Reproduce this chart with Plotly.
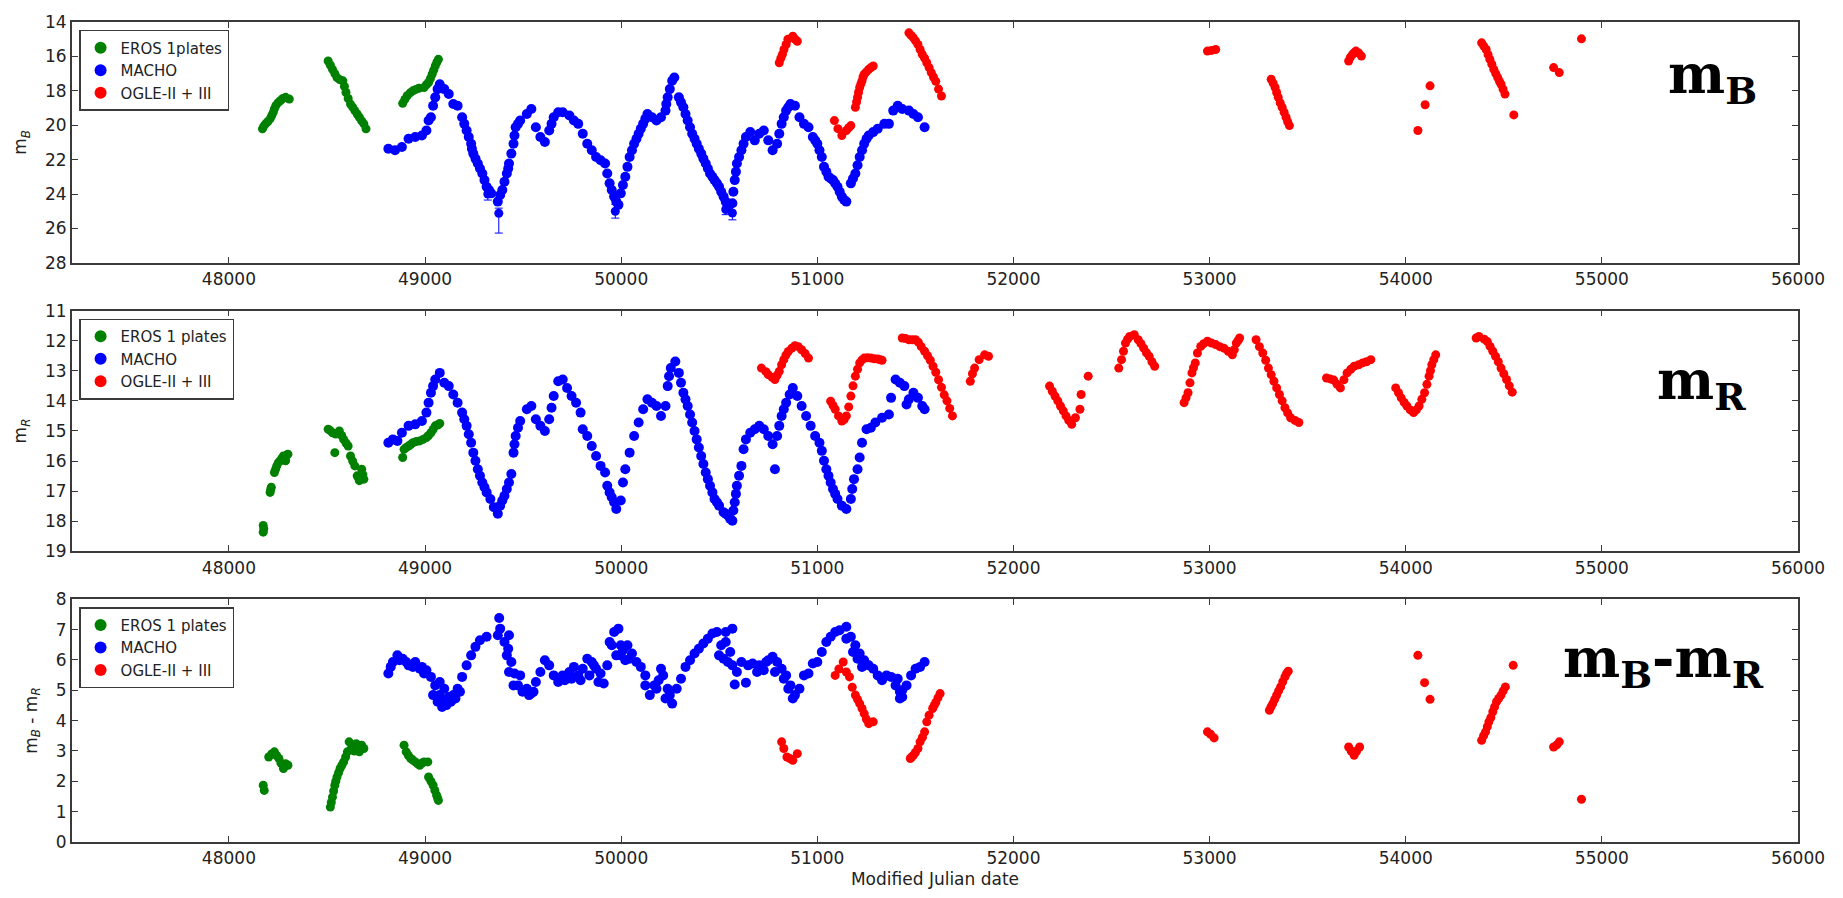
import plotly.graph_objects as go

# ---------------- data (MJD, magnitude) ----------------
eros_b = [(48171,20.21),(48178,20.05),(48187,19.92),(48198,19.8),(48210,19.63),(48218,19.45),(48226,19.25),(48232,19.05),
          (48239,18.87),(48250,18.7),(48262,18.58),(48275,18.45),(48289,18.38),(48308,18.48),
          (48506,16.27),(48517,16.5),(48528,16.75),(48540,17.0),(48551,17.23),(48565,17.35),(48581,17.42),(48589,17.75),
          (48597,18.10),(48608,18.45),(48620,18.77),(48631,18.95),(48642,19.15),(48654,19.35),(48665,19.54),(48677,19.75),
          (48688,19.92),(48699,20.21),
          (48886,18.73),(48897,18.5),(48909,18.29),(48924,18.12),(48938,18.0),(48953,17.92),(48968,17.85),(48995,17.81),
          (49007,17.65),(49018,17.52),(49027,17.3),(49036,17.04),(49044,16.8),(49052,16.56),(49060,16.35),(49068,16.17)]

macho_b = [(48813,21.37),(48847,21.46),(48882,21.27),(48916,20.79),(48950,20.69),(48984,20.60),(49007,20.31),(49030,19.54),
           (49052,18.38),(49075,17.62),(49098,17.90),(49121,18.19),(49144,18.77),(49166,18.87),(49189,19.54),(49212,20.31),
           (49235,21.08),(49246,21.65),(49269,22.23),(49292,22.81),(49314,23.58),(49337,23.96),(49371,24.44),(49394,23.77),
           (49417,22.81),(49428,22.23),(49451,21.08),(49462,20.12),(49485,19.73),(49519,19.35),(49542,19.06),(49565,20.12),
           (49588,20.69),(49611,20.98),(49633,20.31),(49656,19.54),(49679,19.25),(49702,19.25),(49736,19.44),(49759,19.73),
           (49781,19.92),(49804,20.50),(49827,21.08),(49850,21.46),(49872,21.85),(49895,22.04),(49918,22.23),(49929,22.81),
           (49941,23.38),(49964,24.15),(49986,24.63),(49998,23.96),(50021,23.00),(50043,21.85),(50066,21.08),(50089,20.50),
           (50112,19.92),(50134,19.35),(50157,19.54),(50180,19.73),(50203,19.54),(50226,19.15),(50237,18.38),(50260,17.42),
           (50271,17.23),(50294,18.38),(50317,18.96),(50339,19.73),(50362,20.50),(50385,21.08),(50408,21.65),(50431,22.23),
           (50453,22.81),(50476,23.19),(50499,23.58),(50522,24.15),(50544,24.73),(50567,24.54),(50579,23.19),(50590,22.23),
           (50613,21.46),(50636,20.69),(50658,20.40),(50681,20.88),(50704,20.50),(50727,20.31),(50750,20.88),(50772,21.46),
           (50795,21.08),(50818,19.92),(50841,19.15),(50863,18.77),(50886,18.87),(50909,19.54),(50932,19.92),(50955,20.12),
           (50977,20.69),(51000,21.08),(51023,21.85),(51034,22.42),(51057,23.00),(51080,23.19),(51103,23.58),(51125,24.15),
           (51148,24.44),(51171,23.38),(51194,22.81),(51216,21.85),(51239,21.08),(51262,20.60),(51285,20.40),(51308,20.21),
           (51342,19.92),(51365,19.92),(51387,19.15),(51410,18.87),(51433,19.06),(51467,19.15),(51490,19.35),(51513,19.54),
           (51547,20.12),
           (49018,19.73),(49041,18.87),(49064,17.90),(49200,19.92),(49223,20.69),(49239,21.37),(49257,21.94),(49280,22.52),
           (49303,23.19),(49326,23.77),(49383,24.06),(49405,23.29),(49424,22.52),(49440,21.65),(49456,20.6),(49474,19.92),
           (49645,19.92),(49952,23.77),(49975,24.44),(50009,23.48),(50032,22.42),(50055,21.46),(50078,20.79),(50100,20.21),
           (50123,19.63),(50248,17.90),(50230,18.77),(50305,18.67),(50328,19.35),(50351,20.12),(50374,20.79),(50396,21.37),
           (50419,21.94),(50442,22.52),(50465,23.0),(50488,23.38),(50510,23.87),(50533,24.44),(50572,23.87),(50585,22.71),
           (50601,21.85),(50624,21.08),(50806,20.5),(50829,19.54),(50852,18.96),(50989,20.88),(51011,21.46),(51046,22.71),
           (51068,23.10),(51091,23.38),(51114,23.87),(51137,24.35),(51182,23.1),(51205,22.33),(51228,21.46),(51251,20.79)]

# MACHO points with visible error bars: (MJD, mag, err_faint, err_bright)
macho_b_err = [(49320,24.0,0.35,0.35),(49376,25.12,1.15,0.30),(49970,25.0,0.40,0.40),
               (50533,24.9,0.30,0.30),(50567,25.1,0.40,0.40)]

ogle_b = [(50806,16.37),(50814,16.1),(50822,15.88),(50830,15.6),(50841,15.31),(50850,15.0),(50875,14.83),(50887,15.0),(50898,15.12),
          (51087,19.73),(51105,20.2),(51125,20.60),(51148,20.31),(51160,20.15),(51171,20.02),
          (51194,18.96),(51200,18.65),(51205,18.38),(51210,18.1),(51216,17.81),(51222,17.6),(51228,17.42),(51233,17.2),
          (51239,17.04),(51250,16.9),(51262,16.75),(51273,16.65),(51285,16.56),
          (51467,14.63),(51478,14.78),(51490,14.92),(51501,15.1),(51513,15.31),(51524,15.6),(51535,15.88),(51547,16.1),
          (51558,16.37),(51570,16.65),(51581,16.94),(51592,17.2),(51604,17.45),(51618,17.9),(51633,18.3),
          (52989,15.69),(53010,15.65),(53031,15.6),
          (53314,17.33),(53324,17.55),(53334,17.81),(53342,18.1),(53350,18.38),(53360,18.7),(53370,18.96),(53380,19.25),
          (53390,19.54),(53398,19.8),(53407,20.02),
          (53709,16.27),(53718,16.05),(53729,15.88),(53738,15.78),(53746,15.69),(53760,15.8),(53774,15.98),
          (54062,20.31),(54099,18.81),(54124,17.71),
          (54387,15.21),(54398,15.4),(54410,15.6),(54420,15.9),(54429,16.17),(54439,16.45),(54449,16.75),(54459,17.0),
          (54469,17.23),(54478,17.45),(54486,17.62),(54496,17.9),(54506,18.19),(54551,19.40),
          (54754,16.65),(54783,16.94),
          (54896,14.98)]

eros_r = [(48175,18.36),(48175,18.14),(48178,18.25),(48210,17.04),(48213,16.95),(48216,16.87),(48232,16.38),(48238,16.27),
          (48244,16.16),(48252,16.05),(48262,15.99),(48270,15.9),(48278,15.83),(48289,15.99),(48295,15.8),(48301,15.77),
          (48506,14.94),(48515,14.98),(48528,15.06),(48540,15.72),(48545,15.1),(48563,15.0),(48575,15.15),(48585,15.28),
          (48597,15.4),(48608,15.50),(48620,15.83),(48631,16.0),(48642,16.16),(48654,16.49),(48660,16.55),(48665,16.65),
          (48677,16.27),(48683,16.45),(48688,16.60),
          (48886,15.88),(48893,15.61),(48904,15.55),(48916,15.50),(48927,15.45),(48938,15.39),(48955,15.35),(48973,15.33),
          (48990,15.28),(49007,15.22),(49018,15.15),(49030,15.06),(49041,14.95),(49052,14.83),(49064,14.8),(49075,14.75)]

macho_r = [(48813,15.39),(48836,15.28),(48859,15.33),(48882,15.06),(48916,14.83),(48950,14.78),(48984,14.67),(49007,14.39),
           (49030,13.73),(49052,13.29),(49075,13.07),(49098,13.40),(49121,13.51),(49144,13.79),(49166,14.06),(49189,14.39),
           (49212,14.83),(49235,15.39),(49246,15.72),(49269,16.27),(49292,16.71),(49314,17.04),(49371,17.75),(49383,17.48),
           (49405,17.15),(49428,16.71),(49440,16.43),(49451,15.72),(49462,15.17),(49485,14.67),(49519,14.28),(49542,14.17),
           (49565,14.61),(49588,14.83),(49611,15.00),(49633,14.61),(49656,13.84),(49679,13.35),(49702,13.29),(49724,13.57),
           (49747,13.84),(49770,14.06),(49793,14.39),(49804,14.94),(49827,15.17),(49850,15.50),(49872,15.83),(49895,16.16),
           (49918,16.38),(49929,16.82),(49952,17.20),(49975,17.59),(49998,17.31),(50009,16.71),(50021,16.27),(50043,15.72),
           (50066,15.17),(50089,14.72),(50112,14.28),(50134,13.95),(50157,14.06),(50180,14.17),(50203,14.50),(50226,14.17),
           (50237,13.51),(50253,12.91),(50276,12.69),(50294,13.07),(50317,13.73),(50339,14.17),(50362,14.72),(50385,15.28),
           (50408,15.83),(50431,16.38),(50453,16.82),(50476,17.26),(50499,17.48),(50522,17.70),(50544,17.81),(50567,17.98),
           (50579,17.37),(50590,16.82),(50613,16.16),(50624,15.61),(50636,15.28),(50658,15.06),(50681,14.94),(50704,14.83),
           (50727,14.94),(50750,15.17),(50772,15.44),(50784,16.27),(50795,15.17),(50818,14.50),(50841,14.06),(50875,13.57),
           (50898,13.84),(50920,14.17),(50943,14.50),(50966,14.83),(50989,15.17),(51011,15.39),(51034,15.99),(51057,16.49),
           (51080,16.93),(51103,17.26),(51125,17.48),(51148,17.59),(51171,17.26),(51187,16.60),(51205,16.27),(51216,15.88),
           (51228,15.39),(51251,14.94),(51273,14.89),(51296,14.72),(51330,14.56),(51365,14.45),(51376,13.90),(51399,13.29),
           (51421,13.40),(51444,13.51),(51455,14.12),(51467,13.95),(51490,13.73),(51513,13.90),(51535,14.17),(51547,14.28),
           (49018,14.06),(49041,13.51),(49200,14.61),(49223,15.11),(49257,15.99),(49280,16.49),(49303,16.87),(49333,17.26),
           (49351,17.53),(49394,17.31),(49417,16.93),(49456,15.44),(49474,14.89),(49645,14.23),(49941,17.04),(49964,17.37),
           (50244,13.18),(50305,13.4),(50328,13.95),(50351,14.45),(50374,15.0),(50396,15.55),(50419,16.1),(50442,16.6),
           (50465,17.04),(50488,17.37),(50533,17.75),(50556,17.92),(50572,17.64),(50585,17.09),(50601,16.49),(50806,14.83),
           (50829,14.28),(50859,13.79),(51023,15.66),(51046,16.27),(51068,16.71),(51091,17.09),(51178,16.93)]

ogle_r = [(50715,12.91),(50738,13.03),(50750,13.13),(50770,13.22),(50784,13.29),(50795,13.15),(50806,13.02),(50818,12.8),
          (50829,12.63),(50840,12.48),(50852,12.36),(50870,12.25),(50886,12.17),(50903,12.2),(50920,12.30),(50938,12.43),
          (50955,12.58),
          (51068,14.01),(51080,14.15),(51091,14.28),(51108,14.5),(51125,14.67),(51137,14.62),(51148,14.50),(51160,14.2),
          (51171,13.84),(51182,13.5),(51194,13.18),(51205,12.95),(51216,12.74),(51228,12.64),(51239,12.58),(51256,12.57),
          (51273,12.58),(51290,12.6),(51308,12.61),(51320,12.63),(51330,12.65),
          (51433,11.91),(51450,11.93),(51467,11.97),(51484,11.97),(51501,11.97),(51515,12.05),(51530,12.2),(51547,12.35),
          (51562,12.5),(51576,12.65),(51590,12.85),(51604,13.05),(51618,13.3),(51633,13.55),(51647,13.8),(51661,14.0),
          (51675,14.25),(51689,14.5),
          (51780,13.35),(51791,13.1),(51802,12.91),(51825,12.63),(51853,12.47),(51873,12.52),
          (52184,13.51),(52198,13.68),(52212,13.84),(52226,14.0),(52240,14.17),(52254,14.33),(52268,14.50),(52282,14.65),
          (52297,14.78),(52316,14.56),(52339,14.28),(52345,13.79),(52381,13.18),
          (52537,12.91),(52551,12.63),(52561,12.35),(52571,12.08),(52582,11.95),(52593,11.86),(52616,11.80),(52636,11.97),
          (52650,12.1),(52664,12.25),(52678,12.4),(52692,12.52),(52706,12.7),(52720,12.85),
          (52870,14.06),(52880,13.9),(52890,13.73),(52900,13.4),(52910,13.07),(52918,12.9),(52927,12.74),(52938,12.41),
          (52955,12.19),(52970,12.1),(52989,12.02),(53010,12.08),(53031,12.13),(53052,12.2),(53073,12.25),(53095,12.35),
          (53116,12.47),(53126,12.3),(53136,12.08),(53145,12.0),(53153,11.91),
          (53237,11.97),(53254,12.2),(53271,12.41),(53286,12.65),(53300,12.91),(53314,13.13),(53328,13.35),(53342,13.57),
          (53356,13.79),(53370,14.0),(53384,14.23),(53398,14.4),(53413,14.56),(53435,14.65),(53455,14.72),
          (53596,13.24),(53615,13.27),(53633,13.31),(53650,13.45),(53667,13.57),(53685,13.3),(53701,13.07),(53720,12.95),
          (53737,12.85),(53760,12.8),(53780,12.74),(53800,12.7),(53822,12.63),
          (53949,13.57),(53963,13.73),(53977,13.90),(53992,14.05),(54006,14.17),(54023,14.3),(54040,14.39),(54054,14.3),
          (54068,14.17),(54082,13.95),(54096,13.73),(54108,13.45),(54119,13.18),(54126,13.0),(54133,12.80),(54143,12.63),
          (54153,12.47),
          (54359,11.91),(54373,11.86),(54400,11.95),(54416,12.03),(54430,12.19),(54444,12.35),(54458,12.52),(54472,12.7),
          (54486,12.91),(54500,13.1),(54514,13.29),(54528,13.5),(54543,13.71)]

eros_c = [(48175,1.87),(48180,1.70),(48203,2.80),(48218,2.9),(48232,2.97),(48243,2.85),(48255,2.75),(48265,2.6),
          (48278,2.42),(48284,2.5),(48289,2.58),(48301,2.53),
          (48517,1.15),(48522,1.3),(48528,1.48),(48534,1.68),(48540,1.87),(48545,2.0),(48551,2.14),(48559,2.28),
          (48567,2.42),(48576,2.53),(48585,2.64),(48595,2.8),(48604,2.97),(48613,3.30),(48622,3.05),(48631,3.19),
          (48640,3.0),(48649,3.24),(48657,3.1),(48665,2.97),(48677,3.19),(48688,3.08),
          (48893,3.19),(48904,2.97),(48915,2.85),(48927,2.75),(48938,2.7),(48950,2.64),(48962,2.58),(48973,2.53),
          (48985,2.6),(48995,2.64),(49014,2.64),(49018,2.14),(49030,2.0),(49041,1.87),(49050,1.7),(49059,1.54),
          (49064,1.45),(49068,1.37)]

macho_c = [(48813,5.55),(48836,5.93),(48859,6.15),(48886,6.04),(48916,5.82),(48950,5.93),(48984,5.77),(49007,5.66),
           (49030,5.44),(49052,5.16),(49075,4.84),(49098,4.62),(49121,4.78),(49144,4.84),(49166,5.05),(49189,5.44),
           (49212,5.82),(49235,6.15),(49257,6.43),(49280,6.65),(49314,6.76),(49378,7.38),(49371,6.81),(49383,7.03),
           (49405,6.59),(49424,6.37),(49440,5.93),(49456,5.55),(49474,5.16),(49497,4.95),(49519,5.05),(49542,4.89),
           (49565,5.27),(49588,5.60),(49611,5.99),(49633,5.82),(49656,5.49),(49679,5.27),(49702,5.49),(49736,5.60),
           (49759,5.77),(49781,5.49),(49804,5.71),(49827,6.04),(49850,5.93),(49872,5.71),(49895,5.55),(49911,5.22),
           (49929,5.82),(49941,6.59),(49964,6.92),(49986,7.03),(49998,6.48),(50009,6.32),(50032,6.48),(50055,6.21),
           (50078,5.93),(50100,5.77),(50123,5.49),(50146,4.84),(50169,5.16),(50191,5.33),(50214,5.49),(50237,5.05),
           (50260,4.56),(50283,5.05),(50305,5.38),(50328,5.77),(50351,5.99),(50374,6.21),(50396,6.37),(50419,6.54),
           (50442,6.70),(50465,6.87),(50488,6.92),(50510,6.48),(50533,6.92),(50567,7.03),(50556,6.26),(50567,5.82),
           (50579,5.19),(50590,5.60),(50613,5.93),(50636,5.25),(50647,5.82),(50670,5.88),(50704,5.82),(50727,5.66),
           (50750,5.99),(50772,6.10),(50795,5.93),(50818,5.71),(50841,5.49),(50863,5.16),(50886,4.84),(50909,5.05),
           (50932,5.49),(50955,5.55),(50977,5.88),(51000,5.93),(51023,6.26),(51046,6.59),(51068,6.76),(51091,6.92),
           (51114,6.98),(51148,7.09),(51171,6.76),(51194,6.48),(51216,6.21),(51239,5.99),(51262,5.82),(51285,5.71),
           (51308,5.49),(51330,5.33),(51353,5.49),(51376,5.44),(51399,5.16),(51421,4.95),(51433,4.78),(51455,5.16),
           (51478,5.49),(51501,5.71),(51524,5.77),(51547,5.93),
           (49041,4.84),(49064,4.62),(49087,4.45),(49109,4.51),(49132,4.62),(49155,4.73),(49178,4.95),(49075,5.27),
           (49098,5.05),(49417,6.15),(49428,5.6),(49451,5.16),(49485,5.49),(49530,4.84),(49553,4.95),(49428,6.81),
           (49952,6.48),(49975,6.15),(49998,6.15),(50021,5.99),(50043,6.04),(50499,6.15),(50522,6.04),(50533,6.59),
           (50544,5.93),(50693,5.6),(50739,5.93),(50784,5.6),(50829,5.38),(50852,5.05),(50875,4.73),(51148,6.7),
           (51182,6.26),(51205,6.04),(51228,5.77),(51410,5.38),(51433,5.0),(51421,4.73),(49713,5.33),(49747,5.38),
           (49793,5.33),(49838,5.49),(49861,5.82),(49884,5.27),(50123,5.16),(50180,5.05),(50203,5.71),(50226,4.73),
           (50248,4.84),(48825,5.77),(48870,5.99),(48904,5.93),(48938,5.77),(48973,5.71),(48995,5.55)]

ogle_c = [(50818,3.30),(50829,3.08),(50845,2.80),(50860,2.75),(50875,2.69),(50898,2.91),
          (51091,5.49),(51110,5.7),(51132,5.93),(51148,5.60),(51164,5.44),(51178,5.1),(51194,4.84),(51205,4.7),
          (51216,4.56),(51228,4.4),(51239,4.23),(51250,4.05),(51262,3.90),(51285,3.96),
          (51474,2.75),(51481,2.8),(51490,2.86),(51500,2.95),(51513,3.08),(51524,3.30),(51536,3.45),(51547,3.63),
          (51558,3.96),(51570,4.18),(51588,4.40),(51596,4.5),(51604,4.6),(51615,4.75),(51626,4.89),
          (52989,3.63),(53005,3.55),(53023,3.43),
          (53305,4.34),(53313,4.45),(53322,4.56),(53332,4.7),(53342,4.84),(53352,4.98),(53362,5.11),(53373,5.28),
          (53384,5.44),(53392,5.55),(53401,5.63),
          (53709,3.13),(53722,3.0),(53737,2.86),(53750,3.0),(53765,3.13),
          (54062,6.15),(54096,5.25),(54124,4.70),
          (54387,3.35),(54397,3.5),(54407,3.63),(54416,3.8),(54424,3.96),(54434,4.1),(54444,4.29),(54453,4.45),
          (54463,4.62),(54474,4.73),(54486,4.84),(54497,4.98),(54508,5.11),(54548,5.82),
          (54754,3.13),(54770,3.2),(54783,3.30),
          (54896,1.41)]

legend_names = [["EROS 1plates", "MACHO", "OGLE-II + III"],
                ["EROS 1 plates", "MACHO", "OGLE-II + III"],
                ["EROS 1 plates", "MACHO", "OGLE-II + III"]]
y_titles = ["m<sub><i>B</i></sub>", "m<sub><i>R</i></sub>", "m<sub><i>B</i></sub> - m<sub><i>R</i></sub>"]
panel_labels = ["m<sub>B</sub>", "m<sub>R</sub>", "m<sub>B</sub>-m<sub>R</sub>"]
x_ticks = [48000, 49000, 50000, 51000, 52000, 53000, 54000, 55000, 56000]
y_ranges = [[28, 14], [19, 11], [0, 8]]
y_dticks = [2, 1, 1]

# ---------------- figure ----------------
GREEN, BLUE, RED = "#008000", "#0000ff", "#ff0000"
FONT = "DejaVu Sans"
AX = "#3a3a3a"
SIZES = (9, 10, 9)

fig = go.Figure()
panels = [(eros_b, macho_b, ogle_b), (eros_r, macho_r, ogle_r), (eros_c, macho_c, ogle_c)]
for i, series in enumerate(panels):
    xa = "x" if i == 0 else f"x{i+1}"
    ya = "y" if i == 0 else f"y{i+1}"
    lg = "legend" if i == 0 else f"legend{i+1}"
    if i == 0:
        fig.add_trace(go.Scatter(
            x=[p[0] for p in macho_b_err], y=[p[1] for p in macho_b_err], mode="markers",
            marker=dict(color=BLUE, size=9),
            error_y=dict(type="data", symmetric=False, array=[p[2] for p in macho_b_err],
                         arrayminus=[p[3] for p in macho_b_err], color=BLUE, thickness=1, width=4),
            xaxis=xa, yaxis=ya, showlegend=False, hoverinfo="skip"))
    for data, color, name, ms in zip(series, (GREEN, BLUE, RED), legend_names[i], SIZES):
        fig.add_trace(go.Scatter(
            x=[p[0] for p in data], y=[p[1] for p in data], mode="markers", name=name,
            marker=dict(color=color, size=ms, line=dict(width=0)),
            xaxis=xa, yaxis=ya, legend=lg))

domains = [[0.7063, 1.0], [0.3544, 0.6481], [0.0, 0.2961]]
layout = dict(
    width=1843, height=898,
    margin=dict(l=72, r=45, t=19, b=55),
    paper_bgcolor="white", plot_bgcolor="white",
    font=dict(family=FONT, size=17, color="#222"),
    showlegend=True,
)
leg_tops = [0.9903, 0.6383, 0.2864]
for i in range(3):
    sfx = "" if i == 0 else str(i + 1)
    layout["xaxis" + sfx] = dict(
        domain=[0, 1], anchor="y" + sfx, range=[47200, 56000], tickvals=x_ticks, tickformat="d",
        ticks="inside", ticklen=6, tickwidth=1.2, tickcolor=AX,
        showline=True, linecolor=AX, linewidth=1.8, mirror="ticks",
        showgrid=False, zeroline=False, tickfont=dict(size=17, family=FONT, color="#222"))
    layout["yaxis" + sfx] = dict(
        domain=domains[i], anchor="x" + sfx, range=y_ranges[i], dtick=y_dticks[i],
        ticks="inside", ticklen=6, tickwidth=1.2, tickcolor=AX,
        showline=True, linecolor=AX, linewidth=1.8, mirror="ticks",
        showgrid=False, zeroline=False, tickfont=dict(size=17, family=FONT, color="#222"),
        title=dict(text=y_titles[i], font=dict(size=17, family=FONT, color="#222"), standoff=14))
    layout["legend" + sfx] = dict(
        x=0.0041, y=leg_tops[i], xanchor="left", yanchor="top",
        bgcolor="white", bordercolor=AX, borderwidth=1.5,
        font=dict(family=FONT, size=15, color="#222"), itemsizing="constant")
layout["xaxis3"]["title"] = dict(text="Modified Julian date", font=dict(size=17, family=FONT, color="#222"), standoff=6)

fig.update_layout(**layout)

label_pos = [(0.9505, 0.932), (0.9440, 0.5596), (0.9222, 0.2196)]
for (px, py), txt in zip(label_pos, panel_labels):
    fig.add_annotation(text="<b>" + txt + "</b>", xref="paper", yref="paper", x=px, y=py,
                       xanchor="center", yanchor="middle", showarrow=False,
                       font=dict(family="DejaVu Serif", size=54, color="black"))

fig.write_html("out.html", post_script="document.body.style.margin='0';",
               config={"displayModeBar": False})
